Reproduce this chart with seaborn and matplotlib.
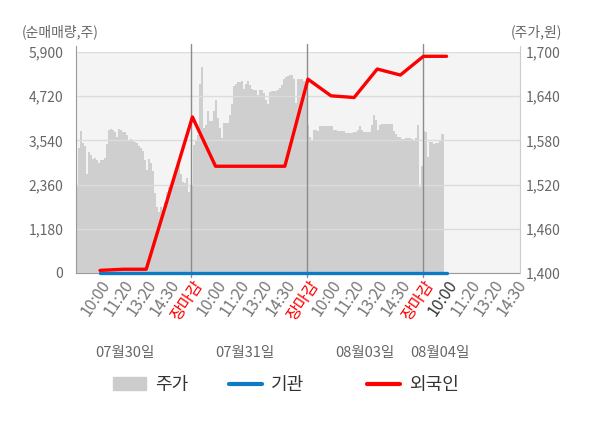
import numpy as np
import pandas as pd
import matplotlib
matplotlib.use("Agg")
import matplotlib.pyplot as plt
import matplotlib.transforms as mtransforms
from matplotlib.patches import Patch
from matplotlib.lines import Line2D
import seaborn as sns

sns.set_style("white")
plt.rcParams["font.family"] = ["Noto Sans CJK KR", "DejaVu Sans"]

# ---------------- data ----------------
# intraday price (주가, 원), sampled across each trading day
price_day1 = [1520, 1570, 1593, 1576, 1572, 1534, 1564, 1560, 1555, 1556,
              1554, 1550, 1554, 1554, 1556, 1575, 1594, 1596, 1594, 1592,
              1585, 1595, 1594, 1591, 1591, 1587, 1581, 1582, 1579, 1578,
              1576, 1573, 1570, 1565, 1554, 1540, 1555, 1550, 1538, 1508,
              1490, 1483, 1490, 1485, 1497, 1510, 1517, 1520, 1522, 1535,
              1545, 1550, 1535, 1524, 1522, 1529, 1510]
price_day2 = [1519, 1574, 1581, 1588, 1656, 1679, 1597, 1601, 1620, 1606,
              1606, 1620, 1635, 1610, 1597, 1583, 1604, 1604, 1604, 1615,
              1629, 1654, 1657, 1659, 1659, 1660, 1650, 1657, 1660, 1655,
              1650, 1649, 1649, 1642, 1649, 1648, 1644, 1635, 1629, 1646,
              1647, 1647, 1647, 1648, 1651, 1655, 1663, 1666, 1668, 1669,
              1669, 1663, 1631, 1664, 1664, 1664, 1660, 1647]
price_day3 = [1601, 1585, 1579, 1594, 1594, 1593, 1599, 1599, 1599, 1599,
              1599, 1599, 1599, 1594, 1594, 1593, 1593, 1593, 1593, 1590,
              1590, 1590, 1590, 1591, 1591, 1594, 1599, 1594, 1592, 1592,
              1592, 1592, 1601, 1614, 1608, 1594, 1601, 1602, 1602, 1602,
              1602, 1602, 1602, 1593, 1589, 1585, 1585, 1582, 1582, 1583,
              1583, 1583, 1582, 1580, 1583, 1601, 1517, 1545]
price_day4 = [1593, 1591, 1558, 1578, 1578, 1575, 1576, 1576, 1581, 1589, 1589]

time_labels = ["10:00", "11:20", "13:20", "14:30", "장마감",
               "10:00", "11:20", "13:20", "14:30", "장마감",
               "10:00", "11:20", "13:20", "14:30", "장마감",
               "10:00", "11:20", "13:20", "14:30"]
date_labels = ["07월30일", "07월31일", "08월03일", "08월04일"]

# net buying quantity (순매매량, 주) at each time slot
foreign = [70, 100, 100, 2130, 4165, 2850, 2850, 2850, 2850,
           5175, 4730, 4685, 5445, 5285, 5785, 5785]
institution = [0, 0, 0, 0, 0, 0, 0, 0, 0, 0, 0, 0, 0, 0, 0, 0]

vol_ticks = [0, 1180, 2360, 3540, 4720, 5900]
price_ticks = [1400, 1460, 1520, 1580, 1640, 1700]

# ---------------- layout ----------------
X_LEFT, X_RIGHT = -1.04, 18.18
day_starts = [-1.04, 3.93, 8.95, 13.97]
step = 2 / 23.1

xs, ps = [], []
for start, day in zip(day_starts, [price_day1, price_day2, price_day3, price_day4]):
    for j, v in enumerate(day):
        xs.append(start + (j + 0.5) * step)
        ps.append(v)

df = pd.DataFrame({"k": np.arange(len(foreign)),
                   "foreign": foreign, "institution": institution})

fig = plt.figure(figsize=(6, 4.28), dpi=100)
ax = fig.add_axes([76 / 600, 1 - 273 / 428, 444 / 600, 221 / 428])
ax.set_facecolor("#f4f4f4")
ax.fill_between(xs, 1400, ps, step="mid", color="#cfcfcf", lw=0)
ax.set_ylim(1400, 1700)
ax.set_xlim(X_LEFT, X_RIGHT)
ax.set_yticks(price_ticks)
ax.set_yticklabels([f"{v:,}" for v in price_ticks])

axv = ax.twinx()
axv.set_ylim(0, 5900)
axv.set_xlim(X_LEFT, X_RIGHT)
axv.set_yticks(vol_ticks)
axv.set_yticklabels([f"{v:,}" for v in vol_ticks])
axv.yaxis.tick_left()
ax.yaxis.tick_right()
axv.grid(axis="y", color="#dcdcdc", lw=1)
axv.set_axisbelow(True)

sns.lineplot(data=df, x="k", y="institution", ax=axv, color="#0f7ac4",
             lw=2.4, clip_on=False, zorder=5)
sns.lineplot(data=df, x="k", y="foreign", ax=axv, color="#ff0000",
             lw=2.4, clip_on=False, zorder=6)
axv.set_xlabel("")
axv.set_ylabel("")

for xb in day_starts[1:]:
    axv.axvline(xb, ymin=-0.02, ymax=1.035, color="#8c8c8c", lw=1,
                clip_on=False, zorder=3)

for a in (ax, axv):
    for s in a.spines.values():
        s.set_visible(False)
axv.spines["left"].set_visible(True)
axv.spines["left"].set_color("#999999")
axv.spines["left"].set_bounds(0, 6050)
axv.spines["right"].set_visible(True)
axv.spines["right"].set_color("#cccccc")
axv.spines["right"].set_bounds(0, 6050)
ax.spines["bottom"].set_visible(True)
ax.spines["bottom"].set_color("#999999")

ax.tick_params(axis="y", length=0, labelsize=10, labelcolor="#666666", pad=4)
axv.tick_params(axis="y", length=0, labelsize=10, labelcolor="#666666", pad=9)

# x ticks live on the base axes (twinx hides the twin's x axis)
ax.set_xticks(range(len(time_labels)))
ax.set_xticklabels(time_labels, rotation=56, ha="right",
                   rotation_mode="anchor", fontsize=11.5)
for i, (t, lab) in enumerate(zip(ax.get_xticklabels(), time_labels)):
    if lab == "장마감":
        t.set_color("#ff0000")
    elif i == 15:
        t.set_color("#333333")
    else:
        t.set_color("#777777")
ax.set_xticks([X_LEFT] + day_starts[1:] + [X_RIGHT], minor=True)
ax.tick_params(axis="x", which="major", length=0, pad=3)
ax.tick_params(axis="x", which="minor", length=4, color="#999999")

trans = mtransforms.blended_transform_factory(ax.transData, ax.transAxes)
for xc, lab in zip([1.08, 6.28, 11.47, 14.72], date_labels):
    ax.text(xc, -0.362, lab, transform=trans, ha="center", va="center",
            fontsize=10.5, color="#666666")

fig.text(22 / 600, 1 - 32 / 428, "(순매매량,주)", ha="left", va="center",
         fontsize=10, color="#666666")
fig.text(562 / 600, 1 - 32 / 428, "(주가,원)", ha="right", va="center",
         fontsize=10, color="#666666")

legend_items = [(Patch(color="#cccccc"), "주가", 108),
                (Line2D([0], [0], color="#0f7ac4", lw=3), "기관", 224),
                (Line2D([0], [0], color="#ff0000", lw=3), "외국인", 362)]
for h, lab, xpx in legend_items:
    leg = fig.legend([h], [lab], loc="center left",
                     bbox_to_anchor=(xpx / 600, 1 - 385 / 428),
                     frameon=False, fontsize=13, handlelength=1.8,
                     handletextpad=0.5, borderaxespad=0, borderpad=0.3)
    for t in leg.get_texts():
        t.set_color("#333333")

fig.savefig("out.png", dpi=100)
